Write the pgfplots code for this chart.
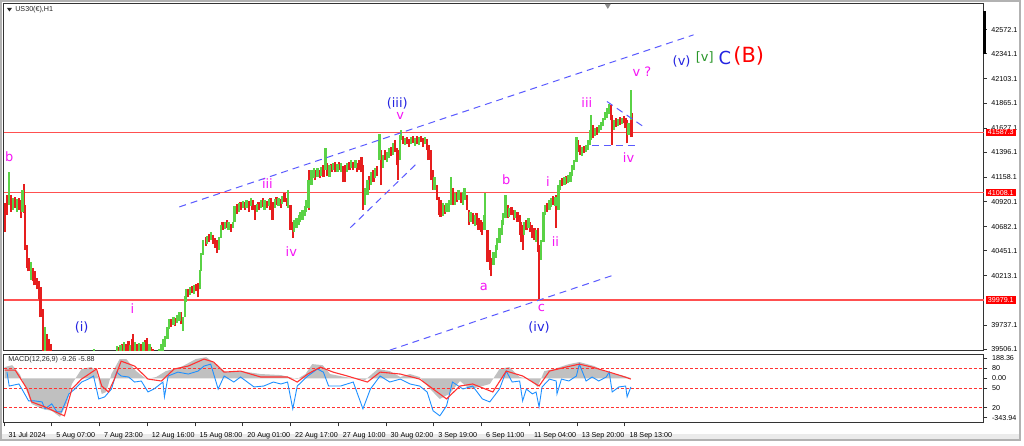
\documentclass[border=0pt]{standalone}
\usepackage{pgfplots}
\usepackage{pgfplotstable}
\pgfplotsset{compat=1.18}
\usepackage{fontspec}
\setmainfont{Liberation Sans}
\newfontfamily\ewfont{DejaVu Sans}

\definecolor{cup}{RGB}{90,210,70}
\definecolor{cdn}{RGB}{230,30,30}
\definecolor{lvl}{RGB}{255,80,80}
\definecolor{chan}{RGB}{90,90,255}
\definecolor{ewmag}{RGB}{245,20,245}
\definecolor{ewblue}{RGB}{35,35,225}
\definecolor{ewgreen}{RGB}{40,150,40}
\definecolor{mgray}{RGB}{192,192,192}
\definecolor{mblue}{RGB}{30,144,255}
\definecolor{mred}{RGB}{255,50,50}

\newcommand\tk{\fontsize{3.6}{4.3}\selectfont}

% hourly bars, sampled: hour index, low, high
\pgfplotstableread{
h lo hi
7 40891 41207
12 40844 40958
17 40825 40949
25 40825 41035
36 40175 40347
55 39430 39717
68 39300 39470
81 39280 39440
95 39250 39430
108 39300 39460
121 39350 39505
135 39340 39480
148 39380 39490
151 39411 39536
156 39411 39545
161 39450 39573
169 39430 39545
176 39450 39573
181 39450 39564
187 39459 39573
195 39450 39554
208 39392 39507
211 39430 39554
213 39488 39602
216 39526 39631
219 39602 39717
221 39698 39793
227 39736 39813
232 39755 39832
235 39774 39860
240 39679 39813
243 39813 40013
244 39955 40080
249 40022 40099
255 40032 40118
263 40080 40271
264 40252 40433
267 40414 40557
272 40519 40595
277 40557 40634
288 40462 40586
291 40576 40700
296 40663 40729
301 40653 40729
307 40672 40729
309 40729 40882
315 40825 40910
320 40863 40930
325 40863 40939
331 40882 40958
339 40825 40901
344 40863 40939
349 40844 40939
355 40882 40949
363 40863 40949
368 40882 40958
373 40901 40977
381 40863 41035
389 40634 40748
392 40672 40768
395 40700 40796
397 40729 40825
400 40748 40844
403 40787 40882
405 40825 40939
408 40863 41130
412 41082 41226
415 41149 41245
420 41159 41245
425 41168 41254
431 41226 41436
436 41159 41274
441 41226 41293
447 41207 41283
452 41207 41293
460 41207 41293
465 41245 41321
471 41245 41321
484 40891 41054
487 40987 41130
492 41082 41207
497 41149 41245
503 41321 41569
508 41245 41369
513 41302 41398
516 41340 41436
521 41369 41483
531 41321 41560
532 41512 41608
537 41464 41531
545 41474 41541
551 41455 41531
556 41464 41541
564 41474 41541
577 41035 41159
588 40787 40910
593 40825 40910
596 40825 40939
599 40891 41159
604 40891 41006
609 40939 41035
615 40891 41016
617 40939 41054
625 40729 40825
631 40691 40796
644 40653 40796
645 40748 41006
656 40318 40443
659 40385 40509
661 40462 40576
664 40529 40672
667 40605 40748
669 40700 40815
672 40768 40987
677 40777 40863
685 40768 40844
697 40605 40729
703 40672 40768
713 40538 40653
720 40366 40557
723 40538 40825
725 40796 40891
731 40844 40939
733 40872 40958
739 40882 40968
743 40844 41082
745 41035 41130
751 41082 41159
756 41101 41178
759 41111 41207
761 41168 41274
764 41226 41321
767 41302 41541
775 41359 41445
780 41398 41464
783 41417 41512
785 41464 41608
787 41512 41751
792 41550 41627
797 41579 41656
800 41608 41684
803 41646 41722
805 41703 41780
808 41722 41818
811 41761 41856
817 41608 41703
823 41646 41713
828 41665 41722
837 41560 41675
840 41703 41999
}\tabup

\pgfplotstableread{
h lo hi
1 40634 40910
4 40796 40987
9 40825 40987
15 40863 40968
20 40844 40958
23 40768 40939
27 40815 41092
28 40462 40891
31 40290 40509
33 40252 40385
39 40156 40290
41 40118 40252
44 40080 40194
47 39984 40156
49 39813 40099
52 39488 39889
57 39450 39650
60 39411 39602
63 39363 39554
75 39250 39420
88 39220 39400
101 39270 39450
115 39320 39480
128 39330 39470
141 39360 39485
153 39392 39526
159 39430 39554
164 39411 39554
167 39430 39583
172 39450 39602
173 39488 39650
179 39430 39554
184 39430 39554
189 39469 39592
192 39488 39612
197 39411 39526
200 39392 39507
203 39363 39488
205 39363 39478
224 39717 39793
229 39727 39803
237 39745 39860
247 40003 40080
252 40041 40108
257 40061 40128
260 40003 40137
271 40500 40586
275 40538 40614
280 40519 40605
283 40481 40576
285 40433 40557
293 40653 40729
299 40672 40748
304 40634 40710
312 40806 40901
317 40844 40920
323 40844 40920
328 40825 40930
333 40844 40939
336 40748 40891
341 40844 40920
347 40872 40958
352 40863 40930
357 40844 40958
360 40748 40920
365 40891 40968
371 40863 40949
376 40920 41006
379 40882 40958
384 40653 40891
387 40576 40729
409 40844 41226
417 41130 41226
423 41149 41226
428 41159 41274
433 41168 41293
439 41207 41283
444 41207 41302
449 41226 41302
455 41111 41264
457 41111 41274
463 41226 41302
468 41226 41302
473 41207 41293
476 41226 41321
479 41207 41350
481 40844 41274
489 41035 41168
495 41111 41226
500 41168 41264
505 41082 41417
511 41321 41417
519 41359 41445
524 41398 41512
527 41274 41436
528 41130 41417
535 41474 41550
540 41474 41541
543 41445 41522
548 41483 41550
553 41474 41550
559 41493 41550
561 41445 41531
567 41417 41522
569 41321 41464
572 41130 41417
575 41035 41226
580 40939 41082
583 40796 40968
585 40777 40939
591 40806 40891
601 40891 41054
607 40920 41016
612 40910 41006
620 40844 40987
623 40700 40844
628 40710 40815
633 40700 40815
636 40653 40768
639 40634 40748
641 40605 40729
648 40347 40653
651 40271 40462
653 40204 40385
675 40768 40891
680 40796 40872
683 40748 40844
688 40729 40825
691 40605 40796
693 40538 40729
695 40462 40700
700 40653 40748
705 40634 40729
708 40576 40700
711 40557 40672
716 40443 40672
717 39984 40509
728 40825 40910
736 40891 40977
740 40672 40987
748 41073 41149
753 41092 41168
769 41398 41512
772 41369 41464
777 41388 41455
789 41531 41656
795 41560 41637
813 41703 41847
815 41464 41751
820 41637 41722
825 41656 41732
831 41675 41741
833 41627 41722
835 41483 41703
841 41541 41770
}\tabdn

% MACD histogram, signal and the blue line
\pgfplotstableread{
h v
1 88
11 103
21 34
27 -43
37 -197
51 -236
64 -251
75 -298
84 -197
91 -43
97 11
104 73
117 88
124 57
131 -120
137 -105
144 34
155 150
164 150
177 57
191 -5
204 11
217 57
237 88
257 150
271 165
284 111
297 49
317 57
344 34
371 26
393 -5
404 34
413 111
427 103
437 34
457 11
484 -12
501 73
517 57
531 11
544 34
557 11
571 -82
584 -159
597 -120
611 -20
624 -82
637 -66
651 -43
664 73
677 88
691 11
704 -5
715 -66
724 57
737 73
757 111
771 127
791 96
804 57
817 34
831 19
840 3
}\tabhist

\pgfplotstableread{
h v
1 65
15 65
31 -82
37 -182
55 -221
75 -275
81 -290
91 -82
104 -5
124 73
131 -59
140 -105
148 -5
157 134
175 96
193 -5
211 -20
228 73
247 96
268 150
281 127
295 49
317 57
344 11
380 11
393 -28
407 34
424 88
441 49
460 19
487 -28
504 49
531 34
557 -5
575 -82
593 -159
611 -59
628 -43
655 -105
673 57
695 19
717 -59
731 57
753 88
771 111
788 88
811 49
828 19
840 -5
}\tabsig

\pgfplotstableread{
h v
4 49
7 -59
20 -43
24 -82
33 -174
41 -174
51 -182
55 -236
64 -197
71 -259
77 -259
87 -120
95 -82
104 -28
113 -5
120 19
127 -159
135 -143
144 -82
151 49
157 19
167 11
175 -28
184 -20
193 -105
201 -82
213 -28
215 -143
220 19
233 49
247 34
260 57
268 96
277 111
287 -82
295 19
308 -28
317 11
335 -66
348 -59
361 -28
371 -43
380 -28
387 -236
393 -59
407 19
420 73
428 49
435 -59
451 -59
468 -28
481 -236
491 -82
504 19
517 -28
531 -5
544 -43
557 -59
567 -105
575 -251
584 -290
593 -213
601 -28
615 -82
628 -59
641 -159
651 -182
664 -82
673 57
681 -28
691 -20
695 -174
700 -82
708 -120
713 -105
717 -221
721 -66
731 -5
740 -20
741 -120
747 -5
757 -20
767 19
771 111
780 -20
788 11
797 -20
807 11
811 49
815 -105
824 -66
833 -59
835 -143
840 -66
}\tabblue

\begin{document}
\begin{tikzpicture}
% window (1 px = 0.5 pt)
\begin{scope}[x=0.5pt,y=-0.5pt]
\fill[white] (0,0) rectangle (1024,441);
\fill[black!8] (0,435) rectangle (1024,441);
\draw[black!30, line width=1pt] (0,0) rectangle (1024,441);
\end{scope}

\begin{axis}[
  at={(1.5pt,-1.5pt)}, anchor=north west, scale only axis,
  width=492.5pt, height=174pt,
  xmin=0, xmax=1313, ymin=39496.6, ymax=42820.4,
  axis line style={black!80, line width=0.5pt},
  xtick=\empty,
  ytick={39506.1,39737.1,40213.1,40451.1,40682.1,40920.1,41158.1,41396.1,41627.1,41865.1,42103.1,42341.1,42572.1},
  ytick pos=right, yticklabel pos=right,
  scaled y ticks=false,
  tick align=outside, major tick length=1.5pt,
  tick style={black!80, line width=0.4pt},
  yticklabel style={font=\tk, anchor=west, xshift=-1.2pt,
    /pgf/number format/fixed, /pgf/number format/fixed zerofill,
    /pgf/number format/precision=1, /pgf/number format/1000 sep={},
    /pgf/number format/assume math mode=true},
  clip mode=individual,
]
% price levels
\draw[lvl, line width=0.7pt] (axis cs:0,41587.3) -- (axis cs:1313,41587.3);
\draw[lvl, line width=0.7pt] (axis cs:0,41008.1) -- (axis cs:1313,41008.1);
\draw[lvl, line width=0.7pt] (axis cs:0,39979.1) -- (axis cs:1313,39979.1);
\coordinate (L1) at (axis cs:1313,41587.3);
\coordinate (L2) at (axis cs:1313,41008.1);
\coordinate (L3) at (axis cs:1313,39979.1);

% candles
\addplot[draw=none, mark=none, forget plot,
  error bars/.cd, y dir=plus, y explicit, error mark=none,
  error bar style={draw=cdn, line width=1.15pt, solid}]
  table[x=h, y=lo, y error expr=\thisrow{hi}-\thisrow{lo}] {\tabdn};
\addplot[draw=none, mark=none, forget plot,
  error bars/.cd, y dir=plus, y explicit, error mark=none,
  error bar style={draw=cup, line width=1.15pt, solid}]
  table[x=h, y=lo, y error expr=\thisrow{hi}-\thisrow{lo}] {\tabup};

% channel lines
\draw[chan, line width=0.5pt, dash pattern=on 3.5pt off 2.5pt] (axis cs:235,40872) -- (axis cs:924,42524);
\draw[chan, line width=0.5pt, dash pattern=on 3.5pt off 2.5pt] (axis cs:517,39497) -- (axis cs:815,40213);
\draw[chan, line width=0.5pt, dash pattern=on 3.5pt off 2.5pt] (axis cs:464,40672) -- (axis cs:555,41302);
\draw[chan, line width=0.5pt, dash pattern=on 3.5pt off 2.5pt] (axis cs:808,41884) -- (axis cs:860,41627);
\draw[chan, line width=0.5pt, dash pattern=on 3.5pt off 2.5pt] (axis cs:788,41465) -- (axis cs:847,41465);

% wave labels
\begin{scope}[every node/.style={font=\ewfont\fontsize{6.5}{7}\selectfont, inner sep=0pt}]
\node[text=ewmag] at (axis cs:7,41350) {b};
\node[text=ewblue] at (axis cs:104,39717) {(i)};
\node[text=ewmag] at (axis cs:172,39898) {i};
\node[text=ewmag] at (axis cs:353,41092) {iii};
\node[text=ewmag] at (axis cs:385,40443) {iv};
\node[text=ewblue] at (axis cs:527,41865) {(iii)};
\node[text=ewmag] at (axis cs:531,41741) {v};
\node[text=ewmag] at (axis cs:673,41130) {b};
\node[text=ewmag] at (axis cs:729,41111) {i};
\node[text=ewmag] at (axis cs:739,40538) {ii};
\node[text=ewmag] at (axis cs:643,40099) {a};
\node[text=ewmag] at (axis cs:720,39898) {c};
\node[text=ewblue] at (axis cs:717,39717) {(iv)};
\node[text=ewmag] at (axis cs:781,41875) {iii};
\node[text=ewmag] at (axis cs:837,41350) {iv};
\node[text=ewmag] at (axis cs:855,42171) {v ?};
\node[text=ewblue] at (axis cs:908,42266) {(v)};
\node[text=ewgreen] at (axis cs:939,42305) {[v]};
\node[text=ewblue, font=\ewfont\fontsize{9}{10}\selectfont] at (axis cs:966,42305) {C};
\node[text=red, font=\ewfont\fontsize{10.5}{12}\selectfont] at (axis cs:998,42324) {(B)};
\end{scope}
\end{axis}

% level price boxes
\foreach \c/\t in {L1/41587.3, L2/41008.1, L3/39979.1}
  \node[fill=red, text=white, anchor=west, xshift=0.8pt, inner xsep=1pt, inner ysep=0.6pt, font=\tk] at (\c) {\t};

\begin{axis}[
  at={(1.5pt,-177.5pt)}, anchor=north west, scale only axis,
  width=492.5pt, height=34.5pt,
  xmin=0, xmax=1313, ymin=-343.94, ymax=188.36,
  axis line style={black!80, line width=0.5pt},
  xtick={0,64,...,832},
  xticklabels={31 Jul 2024,5 Aug 07:00,7 Aug 23:00,12 Aug 16:00,15 Aug 08:00,20 Aug 01:00,22 Aug 17:00,27 Aug 10:00,30 Aug 02:00,3 Sep 19:00,6 Sep 11:00,11 Sep 04:00,13 Sep 20:00,18 Sep 13:00},
  xtick pos=bottom, ytick pos=right, yticklabel pos=right,
  tick align=outside, major tick length=1.8pt,
  tick style={black!80, line width=0.4pt},
  xticklabel style={font=\tk, anchor=north west, xshift=-1.2pt, yshift=0.6pt},
  ytick={157.5,80.4,0,-73.9,-228.2,-305.3},
  yticklabels={188.36,80,0.00,50,20,-343.94},
  yticklabel style={font=\tk, anchor=west, xshift=-1.2pt},
  clip mode=individual,
]
\addplot[fill=mgray, draw=none, forget plot] table[x=h, y=v] {\tabhist} \closedcycle;
\draw[mred, line width=0.45pt, dash pattern=on 1.5pt off 1pt] (axis cs:0,80.4) -- (axis cs:1313,80.4);
\draw[mred, line width=0.45pt, dash pattern=on 1.5pt off 1pt] (axis cs:0,-73.9) -- (axis cs:1313,-73.9);
\draw[mred, line width=0.45pt, dash pattern=on 1.5pt off 1pt] (axis cs:0,-228.2) -- (axis cs:1313,-228.2);
\addplot[mblue, line width=0.45pt, forget plot] table[x=h, y=v] {\tabblue};
\addplot[mred, line width=0.55pt, forget plot] table[x=h, y=v] {\tabsig};
\end{axis}

% texts and marks of the window
\begin{scope}[x=0.5pt,y=-0.5pt]
\fill[black!85] (6,7) -- (11,7) -- (8.5,10.5) -- cycle;
\node[anchor=west, font=\tk, text=black!85, inner sep=0pt] at (14,9) {US30(€),H1};
\node[anchor=west, font=\tk, text=black!85, inner sep=0pt] at (7,361) {MACD(12,26,9) -9.26 -5.88};
\fill[black] (987.5,10) rectangle (990,53);
\fill[black!45] (607,3) -- (613,3) -- (610,8) -- cycle;
\end{scope}
\end{tikzpicture}
\end{document}
